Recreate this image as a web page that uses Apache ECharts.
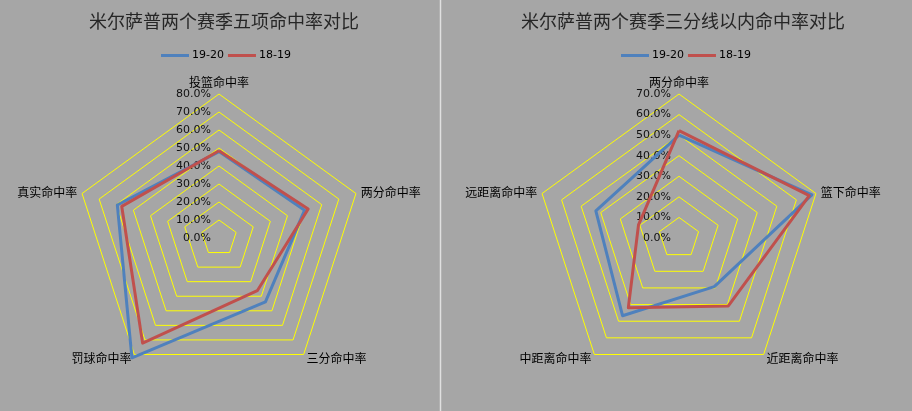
<!DOCTYPE html>
<html>
<head>
<meta charset="utf-8">
<script src="https://cdn.jsdelivr.net/npm/echarts@6/dist/echarts.min.js"></script>
<style>
html, body { margin: 0; padding: 0; background: #a6a6a6; }
#main { width: 912px; height: 411px; }
</style>
</head>
<body>
<div id="main"></div>
<script>
// 数据（按逆时针顺序：顶部、左上、左下、右下、右上）
var seasons = ['19-20', '18-19'];
var leftTitle = '米尔萨普两个赛季五项命中率对比';
var leftNames = ['投篮命中率', '真实命中率', '罚球命中率', '三分命中率', '两分命中率'];
var left1920 = [0.480, 0.594, 0.823, 0.439, 0.500];
var left1819 = [0.485, 0.568, 0.722, 0.362, 0.521];
var leftMax = 0.8;

var rightTitle = '米尔萨普两个赛季三分线以内命中率对比';
var rightNames = ['两分命中率', '远距离命中率', '中距离命中率', '近距离命中率', '篮下命中率'];
var right1920 = [0.500, 0.425, 0.467, 0.292, 0.679];
var right1819 = [0.522, 0.207, 0.419, 0.408, 0.666];
var rightMax = 0.7;

var colors = ['#4f81bd', '#c0504d'];

function pct(v) {
    return (v * 100).toFixed(1) + '%';
}

function makeIndicator(names, max) {
    return names.map(function (n, i) {
        var ind = { name: n, min: 0, max: max };
        if (i === 0) ind.axisLabel = { show: true };
        return ind;
    });
}

function makeRadar(names, max, cx) {
    return {
        center: [cx, 238],
        radius: 144,
        startAngle: 90,
        shape: 'polygon',
        splitNumber: Math.round(max * 10),
        indicator: makeIndicator(names, max),
        nameGap: 5,
        axisName: {
            color: '#000',
            fontSize: 12,
            fontFamily: 'Noto Sans CJK SC'
        },
        axisLine: { show: false },
        axisTick: { show: false },
        axisLabel: {
            show: false,
            margin: 8,
            color: '#111',
            fontSize: 11,
            fontFamily: 'DejaVu Sans',
            formatter: pct
        },
        splitLine: { lineStyle: { color: '#ffff00', width: 1 } },
        splitArea: { show: false }
    };
}

function makeSeries(radarIdx, a, b) {
    return {
        type: 'radar',
        radarIndex: radarIdx,
        symbol: 'none',
        data: [
            { name: seasons[0], value: a, lineStyle: { color: colors[0], width: 3 }, itemStyle: { color: colors[0] } },
            { name: seasons[1], value: b, lineStyle: { color: colors[1], width: 3 }, itemStyle: { color: colors[1] } }
        ]
    };
}

function makeLegend(left) {
    return {
        left: left,
        top: 45,
        data: seasons,
        icon: 'rect',
        itemWidth: 28,
        itemHeight: 3,
        itemGap: 4,
        textStyle: { color: '#000', fontSize: 11, fontFamily: 'DejaVu Sans', padding: [0, 0, 0, -2] }
    };
}

var chart = echarts.init(document.getElementById('main'));
var option = {
    backgroundColor: '#a6a6a6',
    color: colors,
    animation: false,
    title: [
        {
            text: leftTitle, left: 219, top: 7, textAlign: 'center',
            textStyle: { color: '#262626', fontSize: 18, fontWeight: 'normal', fontFamily: 'Noto Sans CJK SC' }
        },
        {
            text: rightTitle, left: 678, top: 7, textAlign: 'center',
            textStyle: { color: '#262626', fontSize: 18, fontWeight: 'normal', fontFamily: 'Noto Sans CJK SC' }
        }
    ],
    legend: [makeLegend(156), makeLegend(616)],
    radar: [makeRadar(leftNames, leftMax, 219), makeRadar(rightNames, rightMax, 679)],
    series: [makeSeries(0, left1920, left1819), makeSeries(1, right1920, right1819)],
    graphic: [{
        type: 'line',
        shape: { x1: 440.5, y1: 0, x2: 440.5, y2: 411 },
        style: { stroke: '#e0e0e0', lineWidth: 1.5 }
    }]
};
chart.setOption(option);
</script>
</body>
</html>
